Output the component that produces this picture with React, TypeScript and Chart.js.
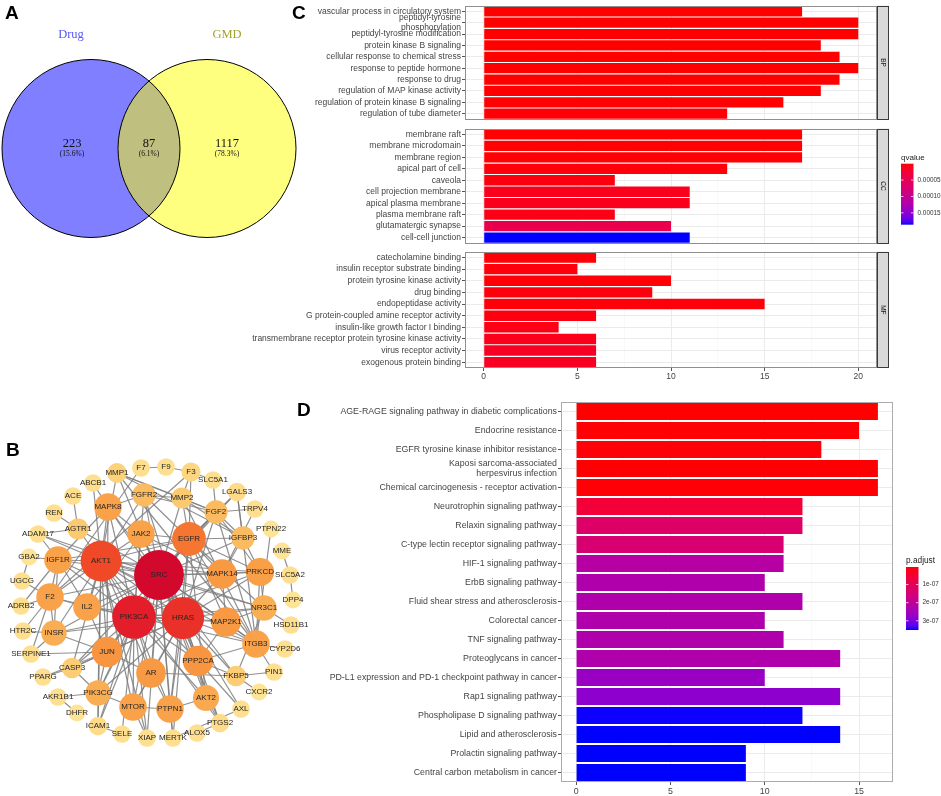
import React, { useEffect, useRef } from "react";
import { Chart, registerables } from "chart.js";
Chart.register(...registerables);

const SANS = "'Liberation Sans', Arial, Helvetica, sans-serif";
const SERIF = "'Liberation Serif', 'Times New Roman', serif";
const AXIS_TEXT = "#444444";

// ================= A: Venn =================
const vennSetNames = ["Drug", "GMD"];
const vennRegionCounts = [223, 87, 1117];
const vennRegionPercents = ["(15.6%)", "(6.1%)", "(78.3%)"];

// ================= B: PPI network =================
const nodeNames = ["F7","F9","F3","MMP1","SLC5A1","ABCB1","LGALS3","ACE","FGFR2","MMP2","MAPK8","REN","FGF2","TRPV4","AGTR1","JAK2","EGFR","PTPN22","ADAM17","IGFBP3","GBA2","IGF1R","AKT1","SRC","MME","MAPK14","PRKCD","SLC5A2","UGCG","F2","IL2","PIK3CA","HRAS","DPP4","ADRB2","NR3C1","MAP2K1","HTR2C","INSR","HSD11B1","ITGB3","CYP2D6","SERPINE1","JUN","PPP2CA","CASP3","PPARG","AR","FKBP5","PIN1","CXCR2","PIK3CG","AKR1B1","AKT2","MTOR","PTPN1","AXL","DHFR","PTGS2","ICAM1","ALOX5","SELE","XIAP","MERTK"];
const nodeX = [141,166,191,117,213,93,237,73,144,182,108,54,216,255,78,141,189,271,38,243,29,58,101,159,282,222,260,290,22,50,87,134,183,293,21,264,226,23,54,291,256,285,31,107,198,72,43,151,236,274,259,98,58,206,133,170,241,77,220,98,197,122,147,173];
const nodeY = [28,27,32,33,40,43,52,56,55,58,67,73,72,69,89,94,99,89,94,98,117,120,121,135,111,134,132,135,141,157,167,177,178,160,166,168,182,191,193,185,204,209,214,212,221,228,237,233,236,232,252,253,257,258,267,269,269,273,283,286,293,294,298,298];
const nodeDegree = [2,2,4,5,2,2,3,2,10,7,16,2,10,2,7,16,25,1,2,10,1,16,35,48,1,19,17,2,2,16,16,39,37,1,2,13,19,2,13,2,16,2,2,20,20,6,2,19,6,2,1,13,2,14,16,16,2,1,3,3,2,2,2,2];
const edgeList: [string, string][] = [
  ["SRC","AKT1"],["SRC","PIK3CA"],["SRC","HRAS"],["SRC","EGFR"],["SRC","JAK2"],["SRC","MAPK8"],["SRC","MAPK14"],["SRC","PRKCD"],["SRC","IGF1R"],["SRC","F2"],["SRC","IL2"],["SRC","INSR"],["SRC","JUN"],["SRC","AR"],["SRC","PPP2CA"],["SRC","MTOR"],["SRC","PTPN1"],["SRC","AKT2"],["SRC","ITGB3"],["SRC","NR3C1"],["SRC","MAP2K1"],["SRC","PIK3CG"],["SRC","FGFR2"],["SRC","FGF2"],["SRC","IGFBP3"],["SRC","CASP3"],["SRC","MMP2"],["SRC","MMP1"],["SRC","AGTR1"],["SRC","ADAM17"],["SRC","FKBP5"],["SRC","XIAP"],["SRC","MERTK"],["SRC","AXL"],["SRC","PTGS2"],["SRC","ICAM1"],["SRC","LGALS3"],
  ["PIK3CA","AKT1"],["PIK3CA","HRAS"],["PIK3CA","EGFR"],["PIK3CA","JAK2"],["PIK3CA","IGF1R"],["PIK3CA","INSR"],["PIK3CA","IL2"],["PIK3CA","F2"],["PIK3CA","MTOR"],["PIK3CA","PTPN1"],["PIK3CA","AKT2"],["PIK3CA","JUN"],["PIK3CA","AR"],["PIK3CA","PPP2CA"],["PIK3CA","MAP2K1"],["PIK3CA","PIK3CG"],["PIK3CA","FGFR2"],["PIK3CA","ITGB3"],["PIK3CA","CASP3"],["PIK3CA","MAPK14"],["PIK3CA","PRKCD"],["PIK3CA","XIAP"],["PIK3CA","ICAM1"],["PIK3CA","MAPK8"],["PIK3CA","NR3C1"],["PIK3CA","SELE"],
  ["HRAS","AKT1"],["HRAS","EGFR"],["HRAS","MAP2K1"],["HRAS","MAPK14"],["HRAS","PRKCD"],["HRAS","JUN"],["HRAS","AR"],["HRAS","MTOR"],["HRAS","PTPN1"],["HRAS","AKT2"],["HRAS","ITGB3"],["HRAS","NR3C1"],["HRAS","FGF2"],["HRAS","FGFR2"],["HRAS","JAK2"],["HRAS","IGF1R"],["HRAS","PIK3CG"],["HRAS","PPP2CA"],["HRAS","MAPK8"],["HRAS","FKBP5"],["HRAS","PTGS2"],["HRAS","IL2"],["HRAS","INSR"],["HRAS","CASP3"],["HRAS","MERTK"],
  ["AKT1","EGFR"],["AKT1","MAPK8"],["AKT1","JAK2"],["AKT1","IGF1R"],["AKT1","F2"],["AKT1","IL2"],["AKT1","INSR"],["AKT1","JUN"],["AKT1","MTOR"],["AKT1","AR"],["AKT1","PPP2CA"],["AKT1","MAPK14"],["AKT1","CASP3"],["AKT1","AGTR1"],["AKT1","ADAM17"],["AKT1","MAP2K1"],["AKT1","PIK3CG"],["AKT1","XIAP"],["AKT1","PTGS2"],["AKT1","ICAM1"],["AKT1","PRKCD"],["AKT1","ITGB3"],["AKT1","FGFR2"],["AKT1","MMP1"],["AKT1","ABCB1"],["AKT1","NR3C1"],
  ["EGFR","JAK2"],["EGFR","MAPK14"],["EGFR","PRKCD"],["EGFR","IGFBP3"],["EGFR","FGF2"],["EGFR","FGFR2"],["EGFR","MAP2K1"],["EGFR","ITGB3"],["EGFR","PTPN1"],["EGFR","AKT2"],["EGFR","NR3C1"],["EGFR","MMP2"],["EGFR","LGALS3"],["EGFR","JUN"],["EGFR","IGF1R"],["EGFR","F3"],
  ["F7","F9"],["F9","F3"],["F3","F2"],["F7","F2"],["F3","MMP2"],["MMP1","MMP2"],["MMP1","IGFBP3"],["MMP1","FGF2"],["MMP1","ITGB3"],["MMP2","FGF2"],["MMP2","IGFBP3"],["MMP2","ITGB3"],["MMP2","FGFR2"],["LGALS3","ITGB3"],["LGALS3","IGFBP3"],["TRPV4","MAPK14"],["TRPV4","FGF2"],["PTPN22","ITGB3"],["MME","SLC5A2"],["SLC5A2","DPP4"],["HSD11B1","NR3C1"],["CYP2D6","ITGB3"],["PIN1","ITGB3"],["PIN1","FKBP5"],["CXCR2","FKBP5"],["FKBP5","AR"],["FKBP5","NR3C1"],["FKBP5","PPP2CA"],["AXL","PPP2CA"],["AXL","MERTK"],["ALOX5","PTGS2"],["PTGS2","AKT2"],["MERTK","PTPN1"],["XIAP","MTOR"],["SELE","ICAM1"],["ICAM1","PIK3CG"],["DHFR","AKR1B1"],["AKR1B1","PIK3CG"],["PPARG","CASP3"],["PPARG","JUN"],["SERPINE1","F2"],["SERPINE1","INSR"],["SERPINE1","JUN"],["HTR2C","F2"],["HTR2C","INSR"],["ADRB2","F2"],["ADRB2","IGF1R"],["UGCG","GBA2"],["UGCG","F2"],["GBA2","IGF1R"],["ADAM17","AGTR1"],["ADAM17","IGF1R"],["REN","AGTR1"],["ACE","AGTR1"],["ABCB1","MAPK8"],["SLC5A1","FGF2"],["SLC5A1","F3"],["NR3C1","PRKCD"],["NR3C1","MAP2K1"],["ITGB3","PRKCD"],["MAPK14","PRKCD"],["MAPK14","MAP2K1"],["MAPK14","IGFBP3"],["MAPK14","JAK2"],["JUN","CASP3"],["JUN","PIK3CG"],["JUN","IL2"],["JUN","INSR"],["JUN","MAPK8"],["JUN","AR"],["AR","MTOR"],["AR","PTPN1"],["MTOR","PTPN1"],["PTPN1","AKT2"],["AKT2","PPP2CA"],["INSR","F2"],["INSR","IGF1R"],["IL2","JAK2"],["IL2","F2"],["MAPK8","JAK2"],["MAPK8","FGFR2"],["MAPK8","IGF1R"],["PPP2CA","MAP2K1"],["PPP2CA","ITGB3"],["PRKCD","IGFBP3"],["PRKCD","FGF2"],["MAP2K1","ITGB3"],["IGF1R","F2"],["IGF1R","IL2"],["CASP3","PIK3CG"],["MTOR","PIK3CG"],["FGFR2","FGF2"],["IGFBP3","FGF2"],["ITGB3","FGF2"],
];

// ================= C: GO enrichment =================
const bpTerms: (string | string[])[] = ["vascular process in circulatory system", ["peptidyl-tyrosine", "phosphorylation"], "peptidyl-tyrosine modification", "protein kinase B signaling", "cellular response to chemical stress", "response to peptide hormone", "response to drug", "regulation of MAP kinase activity", "regulation of protein kinase B signaling", "regulation of tube diameter"];
const bpCounts = [17, 20, 20, 18, 19, 20, 19, 18, 16, 13];
const bpQvalues = [2e-7, 1e-7, 1e-7, 3e-7, 5e-7, 2e-7, 4e-7, 6e-7, 1e-6, 2e-6];
const ccTerms = ["membrane raft", "membrane microdomain", "membrane region", "apical part of cell", "caveola", "cell projection membrane", "apical plasma membrane", "plasma membrane raft", "glutamatergic synapse", "cell-cell junction"];
const ccCounts = [17, 17, 17, 13, 7, 11, 11, 7, 10, 11];
const ccQvalues = [1e-6, 1e-6, 1.2e-6, 3e-6, 4e-6, 1.1e-5, 1.1e-5, 7e-6, 4.2e-5, 1.86e-4];
const mfTerms = ["catecholamine binding", "insulin receptor substrate binding", "protein tyrosine kinase activity", "drug binding", "endopeptidase activity", "G protein-coupled amine receptor activity", "insulin-like growth factor I binding", "transmembrane receptor protein tyrosine kinase activity", "virus receptor activity", "exogenous protein binding"];
const mfCounts = [6, 5, 10, 9, 15, 6, 4, 6, 6, 6];
const mfQvalues = [2e-6, 3e-6, 2e-6, 4e-6, 3e-6, 5e-6, 7e-6, 1e-5, 1.5e-5, 1.5e-5];
const goFacets = ["BP", "CC", "MF"];
const goTicks = [0, 5, 10, 15, 20];
const qLegendTicks = [0.00005, 0.0001, 0.00015];

// ================= D: KEGG enrichment =================
const keggTerms: (string | string[])[] = ["AGE-RAGE signaling pathway in diabetic complications", "Endocrine resistance", "EGFR tyrosine kinase inhibitor resistance", ["Kaposi sarcoma-associated", "herpesvirus infection"], "Chemical carcinogenesis - receptor activation", "Neurotrophin signaling pathway", "Relaxin signaling pathway", "C-type lectin receptor signaling pathway", "HIF-1 signaling pathway", "ErbB signaling pathway", "Fluid shear stress and atherosclerosis", "Colorectal cancer", "TNF signaling pathway", "Proteoglycans in cancer", "PD-L1 expression and PD-1 checkpoint pathway in cancer", "Rap1 signaling pathway", "Phospholipase D signaling pathway", "Lipid and atherosclerosis", "Prolactin signaling pathway", "Central carbon metabolism in cancer"];
const keggCounts = [16, 15, 13, 16, 16, 12, 12, 11, 11, 10, 12, 10, 11, 14, 10, 14, 12, 14, 9, 9];
const keggPadjust = [3e-9, 5e-9, 7e-9, 4e-9, 6e-9, 5.5e-8, 1.25e-7, 1.4e-7, 2.19e-7, 2.29e-7, 2.29e-7, 2.29e-7, 2.29e-7, 2.29e-7, 2.64e-7, 2.81e-7, 3.5e-7, 3.51e-7, 3.51e-7, 3.51e-7];
const keggTicks = [0, 5, 10, 15];
const pLegendTicks = [1e-7, 2e-7, 3e-7];

// ================= colour helpers =================
type RGB = [number, number, number];
const toLin = (c: number) => { c /= 255; return c <= 0.04045 ? c / 12.92 : Math.pow((c + 0.055) / 1.055, 2.4); };
const fromLin = (v: number) => { const c = v <= 0.0031308 ? 12.92 * v : 1.055 * Math.pow(Math.max(v, 0), 1 / 2.4) - 0.055; return Math.round(Math.max(0, Math.min(1, c)) * 255); };
const WX = 0.95047, WZ = 1.08883;
const fL = (t: number) => (t > 216 / 24389 ? Math.cbrt(t) : ((24389 / 27) * t + 16) / 116);
const fLinv = (t: number) => (t * t * t > 216 / 24389 ? t * t * t : (116 * t - 16) / (24389 / 27));
function rgbToLab([r, g, b]: RGB) {
  const R = toLin(r), G = toLin(g), B = toLin(b);
  const X = (0.4124564 * R + 0.3575761 * G + 0.1804375 * B) / WX;
  const Y = 0.2126729 * R + 0.7151522 * G + 0.072175 * B;
  const Z = (0.0193339 * R + 0.119192 * G + 0.9503041 * B) / WZ;
  const fx = fL(X), fy = fL(Y), fz = fL(Z);
  return [116 * fy - 16, 500 * (fx - fy), 200 * (fy - fz)];
}
function labToRgb([L, a, b]: number[]) {
  const fy = (L + 16) / 116, fx = fy + a / 500, fz = fy - b / 200;
  const X = fLinv(fx) * WX, Y = fLinv(fy), Z = fLinv(fz) * WZ;
  const R = 3.2404542 * X - 1.5371385 * Y - 0.4985314 * Z;
  const G = -0.969266 * X + 1.8760108 * Y + 0.041556 * Z;
  const B = 0.0556434 * X - 0.2040259 * Y + 1.0572252 * Z;
  return `rgb(${fromLin(R)},${fromLin(G)},${fromLin(B)})`;
}
const LAB_LOW = rgbToLab([255, 0, 0]);
const LAB_HIGH = rgbToLab([0, 0, 255]);
function redBlue(t: number) {
  const u = Math.max(0, Math.min(1, t));
  return labToRgb(LAB_LOW.map((v, i) => v + (LAB_HIGH[i] - v) * u));
}

const nodeStops: [number, RGB][] = [
  [0, [254, 228, 150]], [0.13, [251, 200, 110]], [0.3, [249, 165, 75]], [0.4, [248, 150, 65]],
  [0.5, [245, 120, 48]], [0.72, [240, 75, 40]], [0.8, [228, 30, 42]], [1, [210, 8, 45]],
];
function nodeColor(deg: number, maxDeg: number) {
  const t = (deg - 1) / (maxDeg - 1);
  for (let i = 1; i < nodeStops.length; i++) {
    const [t1, c1] = nodeStops[i];
    const [t0, c0] = nodeStops[i - 1];
    if (t <= t1) {
      const u = (t - t0) / (t1 - t0);
      return `rgb(${c0.map((v, k) => Math.round(v + (c1[k] - v) * u)).join(",")})`;
    }
  }
  return "rgb(210,8,45)";
}
const nodeRadius = (deg: number) => 8.5 + 0.35 * (deg - 1);

// ================= plugins =================
const panelBorder = (color: string) => ({
  id: "panelBorder",
  afterDatasetsDraw(chart: any) {
    const { ctx, chartArea: a } = chart;
    ctx.save();
    ctx.strokeStyle = color;
    ctx.lineWidth = 1;
    ctx.strokeRect(Math.round(a.left) + 0.5, Math.round(a.top) + 0.5, Math.round(a.right - a.left) - 1, Math.round(a.bottom - a.top) - 1);
    ctx.restore();
  },
});

const stripPlugin = (text: string) => ({
  id: "facetStrip",
  afterDatasetsDraw(chart: any) {
    const { ctx, chartArea: a } = chart;
    const w = 12;
    ctx.save();
    ctx.fillStyle = "#D9D9D9";
    ctx.fillRect(a.right, a.top, w, a.bottom - a.top);
    ctx.strokeStyle = "#3a3a3a";
    ctx.lineWidth = 1;
    ctx.strokeRect(Math.round(a.right) + 0.5, Math.round(a.top) + 0.5, w - 1, Math.round(a.bottom - a.top) - 1);
    ctx.translate(a.right + w / 2, (a.top + a.bottom) / 2);
    ctx.rotate(Math.PI / 2);
    ctx.fillStyle = "#1A1A1A";
    ctx.font = `6.5px ${SANS}`;
    ctx.textAlign = "center";
    ctx.textBaseline = "middle";
    ctx.fillText(text, 0, 0);
    ctx.restore();
  },
});

const colorbarPlugin = (o: { title: string; dx: number; dy: number; w: number; h: number; ticks: number[]; vmin: number; vmax: number; fmt: (v: number) => string; titleSize: number }) => ({
  id: "colorbar",
  afterDraw(chart: any) {
    const { ctx, chartArea: a } = chart;
    const x = a.right + o.dx, top = a.top + o.dy;
    ctx.save();
    ctx.fillStyle = "#1A1A1A";
    ctx.font = `${o.titleSize}px ${SANS}`;
    ctx.textAlign = "left";
    ctx.textBaseline = "alphabetic";
    ctx.fillText(o.title, x, top - 4);
    const g = ctx.createLinearGradient(0, top, 0, top + o.h);
    for (let i = 0; i <= 20; i++) g.addColorStop(i / 20, redBlue(i / 20));
    ctx.fillStyle = g;
    ctx.fillRect(x, top, o.w, o.h);
    ctx.strokeStyle = "rgba(255,255,255,0.9)";
    ctx.lineWidth = 0.8;
    ctx.font = `6.4px ${SANS}`;
    ctx.textBaseline = "middle";
    o.ticks.forEach((v) => {
      const y = top + ((v - o.vmin) / (o.vmax - o.vmin)) * o.h;
      ctx.beginPath();
      ctx.moveTo(x, y); ctx.lineTo(x + o.w * 0.2, y);
      ctx.moveTo(x + o.w * 0.8, y); ctx.lineTo(x + o.w, y);
      ctx.stroke();
      ctx.fillStyle = "#333";
      ctx.fillText(o.fmt(v), x + o.w + 4, y);
    });
    ctx.restore();
  },
});

// ================= chart builders =================
function hbarConfig(s: {
  labels: (string | string[])[]; values: number[]; colors: string[]; range: [number, number]; major: number[]; step: number;
  yWidth: number; xHeight: number; showX: boolean; padding: any; fontSize: number; border: string; plugins: any[];
}) {
  const gridVals: number[] = [];
  for (let v = Math.ceil(s.range[0] / s.step) * s.step; v <= s.range[1] + 1e-9; v += s.step) gridVals.push(+v.toFixed(6));
  const isMajor = (v: number) => s.major.some((m) => Math.abs(m - v) < 1e-9);
  return {
    type: "bar",
    data: {
      labels: s.labels,
      datasets: [{ data: s.values, backgroundColor: s.colors, borderWidth: 0, barPercentage: 0.9, categoryPercentage: 1 }],
    },
    options: {
      indexAxis: "y",
      animation: false,
      responsive: true,
      maintainAspectRatio: false,
      events: [],
      layout: { padding: s.padding, autoPadding: false },
      plugins: { legend: { display: false }, tooltip: { enabled: false } },
      scales: {
        x: {
          type: "linear",
          min: s.range[0],
          max: s.range[1],
          afterBuildTicks: (sc: any) => { sc.ticks = gridVals.map((v) => ({ value: v })); },
          afterFit: (sc: any) => { sc.height = s.xHeight; },
          ticks: {
            display: s.showX, autoSkip: false, maxRotation: 0, padding: 1, color: AXIS_TEXT,
            font: { family: SANS, size: s.fontSize },
            callback: (v: number) => (isMajor(v) ? String(v) : ""),
          },
          grid: {
            color: (c: any) => (c.tick && isMajor(c.tick.value) ? "#EBEBEB" : "#F5F5F5"),
            lineWidth: (c: any) => (c.tick && isMajor(c.tick.value) ? 1 : 0.6),
            drawTicks: s.showX,
            tickLength: 3,
            tickColor: (c: any) => (c.tick && isMajor(c.tick.value) ? "#555" : "rgba(0,0,0,0)"),
          },
          border: { display: false },
        },
        y: {
          afterFit: (sc: any) => { sc.width = s.yWidth; },
          ticks: { autoSkip: false, padding: 1, color: AXIS_TEXT, font: { family: SANS, size: s.fontSize, lineHeight: 1.1 } },
          grid: { offset: false, color: "#EBEBEB", lineWidth: 1, tickLength: 3, tickColor: "#555" },
          border: { display: false },
        },
      },
    },
    plugins: [panelBorder(s.border), ...s.plugins],
  } as any;
}

function vennConfig() {
  const cx = [91, 207], cy = 148.5, r = 89;
  const countX = [72, 149, 227];
  const titleX = [71, 227];
  const titleColors = ["#5858F6", "#A3A330"];
  const textPlugin = {
    id: "vennText",
    afterDatasetsDraw(chart: any) {
      const { ctx, scales } = chart;
      const X = (v: number) => scales.x.getPixelForValue(v);
      const Y = (v: number) => scales.y.getPixelForValue(v);
      ctx.save();
      ctx.textAlign = "center";
      ctx.textBaseline = "middle";
      ctx.font = `12.5px ${SERIF}`;
      vennSetNames.forEach((n, i) => { ctx.fillStyle = titleColors[i]; ctx.fillText(n, X(titleX[i]), Y(35)); });
      ctx.fillStyle = "#111";
      vennRegionCounts.forEach((c, i) => {
        ctx.font = `12.5px ${SERIF}`;
        ctx.fillText(String(c), X(countX[i]), Y(144));
        ctx.font = `7.5px ${SERIF}`;
        ctx.fillText(vennRegionPercents[i], X(countX[i]), Y(154));
      });
      ctx.restore();
    },
  };
  return {
    type: "bubble",
    data: {
      datasets: [
        { data: [{ x: cx[0], y: cy, r }], backgroundColor: "rgba(0,0,255,0.5)", borderWidth: 0, order: 2, clip: false },
        { data: [{ x: cx[1], y: cy, r }], backgroundColor: "rgba(255,255,0,0.5)", borderWidth: 0, order: 1, clip: false },
        { data: [{ x: cx[0], y: cy, r }, { x: cx[1], y: cy, r }], backgroundColor: "rgba(0,0,0,0)", borderColor: "#000", borderWidth: 1, order: 0, clip: false },
      ],
    },
    options: {
      animation: false, responsive: true, maintainAspectRatio: false, events: [],
      layout: { padding: 0, autoPadding: false },
      plugins: { legend: { display: false }, tooltip: { enabled: false } },
      scales: {
        x: { type: "linear", display: false, min: 0, max: 300 },
        y: { type: "linear", display: false, min: 0, max: 260, reverse: true },
      },
    },
    plugins: [textPlugin],
  } as any;
}

function networkConfig() {
  const idx = new Map(nodeNames.map((n, i) => [n, i]));
  const maxDeg = Math.max(...nodeDegree);
  const edgeSets = edgeList
    .filter(([a, b]) => idx.has(a) && idx.has(b))
    .map(([a, b]) => {
      const i = idx.get(a)!, j = idx.get(b)!;
      return {
        type: "line",
        data: [{ x: nodeX[i], y: nodeY[i] }, { x: nodeX[j], y: nodeY[j] }],
        showLine: true, borderColor: "rgba(125,125,125,0.85)", borderWidth: 1.2, pointRadius: 0, order: 1, clip: false,
      };
    });
  const nodeSet = {
    type: "bubble",
    data: nodeNames.map((_, i) => ({ x: nodeX[i], y: nodeY[i], r: nodeRadius(nodeDegree[i]) })),
    backgroundColor: nodeDegree.map((d) => nodeColor(d, maxDeg)),
    borderWidth: 0,
    order: 0,
    clip: false,
  };
  const labelPlugin = {
    id: "nodeLabels",
    afterDatasetsDraw(chart: any) {
      const { ctx } = chart;
      const meta = chart.getDatasetMeta(chart.data.datasets.length - 1);
      ctx.save();
      ctx.fillStyle = "#262626";
      ctx.font = `8px ${SANS}`;
      ctx.textAlign = "center";
      ctx.textBaseline = "middle";
      meta.data.forEach((el: any, i: number) => ctx.fillText(nodeNames[i], el.x, el.y));
      ctx.restore();
    },
  };
  return {
    type: "scatter",
    data: { datasets: [...edgeSets, nodeSet] },
    options: {
      animation: false, responsive: true, maintainAspectRatio: false, events: [],
      layout: { padding: 0, autoPadding: false },
      plugins: { legend: { display: false }, tooltip: { enabled: false } },
      scales: {
        x: { type: "linear", display: false, min: 0, max: 310 },
        y: { type: "linear", display: false, min: 0, max: 320, reverse: true },
      },
    },
    plugins: [labelPlugin],
  } as any;
}

function expandRange(vals: number[]): [number, number] {
  const hi = Math.max(...vals);
  return [-0.05 * hi, hi * 1.05];
}

export default function App() {
  const vennRef = useRef<HTMLCanvasElement>(null);
  const netRef = useRef<HTMLCanvasElement>(null);
  const bpRef = useRef<HTMLCanvasElement>(null);
  const ccRef = useRef<HTMLCanvasElement>(null);
  const mfRef = useRef<HTMLCanvasElement>(null);
  const dRef = useRef<HTMLCanvasElement>(null);

  useEffect(() => {
    const charts: Chart[] = [];
    const allQ = [...bpQvalues, ...ccQvalues, ...mfQvalues];
    const qMin = Math.min(...allQ), qMax = Math.max(...allQ);
    const qCol = (q: number) => redBlue((q - qMin) / (qMax - qMin));
    const goRange = expandRange([...bpCounts, ...ccCounts, ...mfCounts]);
    const goCommon = { range: goRange, major: goTicks, step: 2.5, yWidth: 225, fontSize: 8.5, border: "#8f8f8f" };

    charts.push(new Chart(vennRef.current!, vennConfig()));
    charts.push(new Chart(netRef.current!, networkConfig()));
    charts.push(new Chart(bpRef.current!, hbarConfig({
      ...goCommon, labels: bpTerms, values: bpCounts, colors: bpQvalues.map(qCol),
      xHeight: 0, showX: false, padding: { top: 3, bottom: 3, left: 0, right: 64 }, plugins: [stripPlugin(goFacets[0])],
    })));
    charts.push(new Chart(ccRef.current!, hbarConfig({
      ...goCommon, labels: ccTerms, values: ccCounts, colors: ccQvalues.map(qCol),
      xHeight: 0, showX: false, padding: { top: 3, bottom: 3, left: 0, right: 64 },
      plugins: [stripPlugin(goFacets[1]), colorbarPlugin({ title: "qvalue", dx: 24, dy: 35, w: 12.5, h: 61, ticks: qLegendTicks, vmin: qMin, vmax: qMax, fmt: (v) => v.toFixed(5), titleSize: 8 })],
    })));
    charts.push(new Chart(mfRef.current!, hbarConfig({
      ...goCommon, labels: mfTerms, values: mfCounts, colors: mfQvalues.map(qCol),
      xHeight: 23, showX: true, padding: { top: 3, bottom: 0, left: 0, right: 64 }, plugins: [stripPlugin(goFacets[2])],
    })));

    const pMin = Math.min(...keggPadjust), pMax = Math.max(...keggPadjust);
    const sci = (v: number) => {
      const e = Math.floor(Math.log10(v) + 1e-9);
      const m = Math.round(v / Math.pow(10, e));
      return `${m}e-${String(-e).padStart(2, "0")}`;
    };
    charts.push(new Chart(dRef.current!, hbarConfig({
      labels: keggTerms, values: keggCounts, colors: keggPadjust.map((p) => redBlue((p - pMin) / (pMax - pMin))),
      range: expandRange(keggCounts), major: keggTicks, step: 2.5, yWidth: 241, xHeight: 14, showX: true,
      padding: { top: 7, bottom: 0, left: 0, right: 48 }, fontSize: 8.8, border: "#ababab",
      plugins: [colorbarPlugin({ title: "p.adjust", dx: 13, dy: 165, w: 12.5, h: 63, ticks: pLegendTicks, vmin: pMin, vmax: pMax, fmt: sci, titleSize: 8.3 })],
    })));
    return () => charts.forEach((c) => c.destroy());
  }, []);

  const box = (left: number, top: number, width: number, height: number): React.CSSProperties => ({ position: "absolute", left, top, width, height });
  const letter = (left: number, top: number): React.CSSProperties => ({ position: "absolute", left, top, fontFamily: SANS, fontWeight: "bold", fontSize: 19, lineHeight: 1, color: "#000" });

  return (
    <div style={{ position: "absolute", left: 0, top: 0, width: 941, height: 796, background: "#fff", overflow: "hidden" }}>
      <div style={box(0, 0, 300, 260)}><canvas ref={vennRef} /></div>
      <div style={box(0, 440, 310, 320)}><canvas ref={netRef} /></div>
      <div style={box(240, 0, 701, 125)}><canvas ref={bpRef} /></div>
      <div style={box(240, 123, 701, 126)}><canvas ref={ccRef} /></div>
      <div style={box(240, 246, 701, 145)}><canvas ref={mfRef} /></div>
      <div style={box(320, 395, 621, 401)}><canvas ref={dRef} /></div>
      <div style={letter(5, 2.5)}>A</div>
      <div style={letter(6, 439.5)}>B</div>
      <div style={letter(292, 2.5)}>C</div>
      <div style={letter(297, 399.5)}>D</div>
    </div>
  );
}
